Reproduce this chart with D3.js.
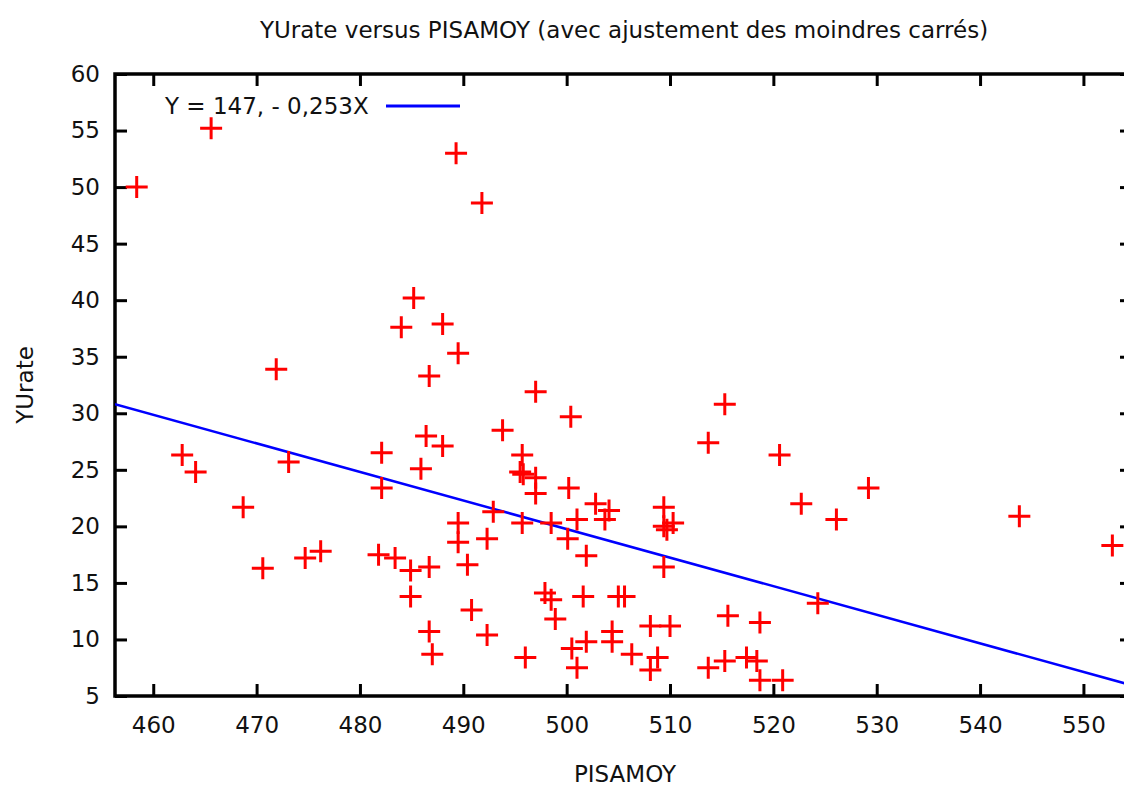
<!DOCTYPE html>
<html>
<head>
<meta charset="utf-8">
<script src="https://cdn.jsdelivr.net/npm/d3@7"></script>
<style>
  body { margin: 0; background: #fff; }
  text { font-family: "DejaVu Sans", sans-serif; fill: #111; }
</style>
</head>
<body>
<svg id="chart" width="1124" height="787"></svg>
<script>
// values
const pisamoy = [
  465.6, 458.4, 489.3, 491.8,
  484.0, 471.9, 462.8, 464.1, 473.1, 482.1, 482.1, 468.7, 470.6, 474.7, 476.2, 481.8, 483.4,
  485.2, 488.0, 489.5, 486.7, 497.0, 500.4, 493.8, 486.4, 488.0, 495.7, 485.9, 495.5, 495.8,
  497.0, 497.0, 500.2, 502.8, 492.9, 489.5, 495.7, 501.0, 498.5, 500.1, 489.5, 492.3, 486.7,
  484.9, 490.4, 501.9, 484.9, 497.9, 498.5, 501.6, 490.8, 498.9, 486.7, 492.3, 487.0, 496.0,
  500.5, 501.9, 501.0,
  515.3, 513.7, 520.6, 504.1, 503.7, 509.4, 509.4, 510.3, 509.7, 509.4, 505.0, 505.6, 508.1,
  510.0, 504.4, 504.4, 506.3, 508.8, 508.1, 515.6, 518.7, 513.7, 515.3, 517.4, 518.4, 518.7, 520.9,
  522.7, 526.1, 529.2, 524.3, 543.8, 552.8
]
const yurate = [
  55.2, 50.0, 53.0, 48.6,
  37.6, 33.9, 26.3, 24.8, 25.7, 26.5, 23.4, 21.7, 16.3, 17.2, 17.8, 17.5, 17.2,
  40.2, 37.9, 35.3, 33.3, 31.9, 29.7, 28.5, 28.0, 27.1, 26.3, 25.1, 24.8, 24.6,
  24.3, 22.9, 23.4, 22.0, 21.3, 20.3, 20.3, 20.6, 20.3, 18.9, 18.6, 18.9, 16.4,
  16.1, 16.6, 17.4, 13.8, 14.1, 13.5, 13.8, 12.6, 11.8, 10.7, 10.4, 8.7, 8.4,
  9.2, 9.8, 7.5,
  30.8, 27.4, 26.3, 21.4, 20.6, 21.7, 20.0, 20.3, 19.7, 16.4, 13.8, 13.8, 11.2,
  11.2, 10.7, 9.8, 8.7, 8.4, 7.3, 12.1, 11.5, 7.5, 8.1, 8.4, 8.1, 6.4, 6.4,
  22.0, 20.6, 23.4, 13.2, 20.9, 18.3
]
const xTicks = [460, 470, 480, 490, 500, 510, 520, 530, 540, 550]
const yTicks = [5, 10, 15, 20, 25, 30, 35, 40, 45, 50, 55, 60]

// least squares line as drawn
const fitIntercept = 146.06
const fitSlope = -0.2526
const fitLabel = 'Y = 147, - 0,253X'

const title = 'YUrate versus PISAMOY (avec ajustement des moindres carrés)'
const xLabel = 'PISAMOY'
const yLabel = 'YUrate'

const plotLeft = 115, plotRight = 1132, plotTop = 74, plotBottom = 696

const svg = d3.select('#chart')

const x = d3.scaleLinear().domain([456.3, 554.7]).range([plotLeft, plotRight])
const y = d3.scaleLinear().domain([5, 60]).range([plotBottom, plotTop])

svg.append('defs').append('clipPath').attr('id', 'plot')
  .append('rect')
    .attr('x', plotLeft).attr('y', plotTop)
    .attr('width', plotRight - plotLeft).attr('height', plotBottom - plotTop)

// axes, ticks pointing inward
const fontSize = '23px'

svg.append('g')
  .attr('transform', `translate(0,${plotBottom})`)
  .call(d3.axisBottom(x).tickValues(xTicks).tickSizeInner(-12).tickSizeOuter(0).tickPadding(21))
svg.append('g')
  .attr('transform', `translate(${plotLeft},0)`)
  .call(d3.axisLeft(y).tickValues(yTicks).tickSizeInner(-12).tickSizeOuter(0).tickPadding(15))
svg.append('g')
  .attr('transform', `translate(0,${plotTop})`)
  .call(d3.axisTop(x).tickValues(xTicks).tickSizeInner(-12).tickSizeOuter(0).tickFormat(''))
svg.append('g')
  .attr('transform', `translate(${plotRight},0)`)
  .call(d3.axisRight(y).tickValues(yTicks).tickSizeInner(-12).tickSizeOuter(0).tickFormat(''))

svg.selectAll('.domain').remove()
svg.selectAll('.tick line').attr('stroke', '#000').attr('stroke-width', 3)
svg.selectAll('.tick text').style('font-size', fontSize).attr('fill', '#111')

svg.append('rect')
  .attr('x', plotLeft).attr('y', plotTop)
  .attr('width', plotRight - plotLeft).attr('height', plotBottom - plotTop)
  .attr('fill', 'none')
  .attr('stroke', '#000')
  .attr('stroke-width', 3.5)

// regression line
const xs = x.domain()
svg.append('line')
  .attr('clip-path', 'url(#plot)')
  .attr('x1', x(xs[0])).attr('y1', y(fitIntercept + fitSlope * xs[0]))
  .attr('x2', x(xs[1])).attr('y2', y(fitIntercept + fitSlope * xs[1]))
  .attr('stroke', '#0000ff')
  .attr('stroke-width', 2.5)

// points as plus signs
const points = pisamoy.map((v, i) => [v, yurate[i]])
const half = 11
svg.append('g')
  .selectAll('path')
  .data(points)
  .join('path')
    .attr('d', d => `M${x(d[0]) - half},${y(d[1])}h${half * 2}M${x(d[0])},${y(d[1]) - half}v${half * 2}`)
    .attr('stroke', '#ff0000')
    .attr('stroke-width', 3)
    .attr('fill', 'none')

// legend
svg.append('text')
  .attr('x', 165).attr('y', 114)
  .style('font-size', fontSize)
  .text(fitLabel)
svg.append('line')
  .attr('x1', 386).attr('x2', 460)
  .attr('y1', 106).attr('y2', 106)
  .attr('stroke', '#0000ff')
  .attr('stroke-width', 3)

// titles
svg.append('text')
  .attr('x', 624).attr('y', 38)
  .attr('text-anchor', 'middle')
  .style('font-size', fontSize)
  .text(title)
svg.append('text')
  .attr('x', 625).attr('y', 782)
  .attr('text-anchor', 'middle')
  .style('font-size', fontSize)
  .text(xLabel)
svg.append('text')
  .attr('transform', 'translate(33,385) rotate(-90)')
  .attr('text-anchor', 'middle')
  .style('font-size', fontSize)
  .text(yLabel)
</script>
</body>
</html>
